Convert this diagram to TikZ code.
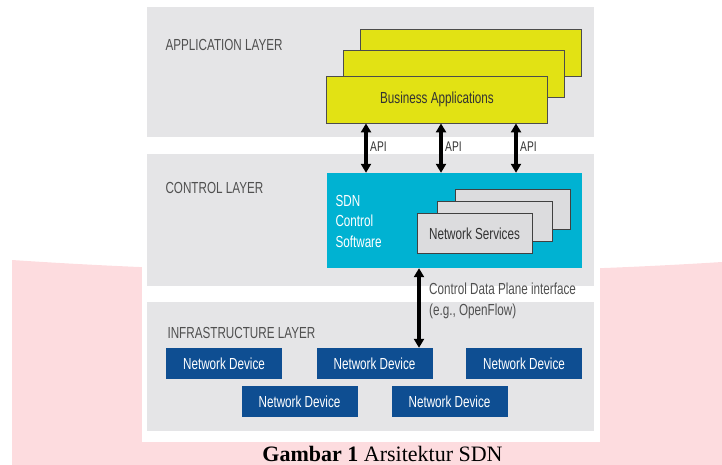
\documentclass[tikz,border=0pt]{standalone}
\usepackage{fontspec}
\setmainfont{Liberation Serif}
\setsansfont{Liberation Sans}[FakeStretch=0.73]
\usetikzlibrary{arrows.meta}

\definecolor{bandgray}{RGB}{229,229,231}
\definecolor{appyellow}{RGB}{226,226,20}
\definecolor{sdncyan}{RGB}{0,178,210}
\definecolor{svcgray}{RGB}{220,220,222}
\definecolor{devblue}{RGB}{14,78,146}
\definecolor{labelgray}{RGB}{80,80,80}
\definecolor{pagepink}{RGB}{253,220,223}

\tikzset{
  layerband/.style={fill=bandgray, minimum width=447pt, inner sep=0pt},
  layername/.style={anchor=west, text=labelgray, font=\sffamily\fontsize{16}{20.5}\selectfont},
  appbox/.style={draw=black!70, fill=appyellow, line width=0.8pt, minimum width=221pt, minimum height=47pt, inner sep=0pt},
  svcbox/.style={draw=black!75, fill=svcgray, line width=0.8pt, minimum width=115pt, minimum height=40pt, inner sep=0pt},
  devbox/.style={fill=devblue, text=white, minimum width=116pt, minimum height=31pt, inner sep=0pt, font=\sffamily\fontsize{16}{20.5}\selectfont},
  boxtext/.style={text=black!80, font=\sffamily\fontsize{16}{20.5}\selectfont},
  biarrow/.style={line width=3.2pt, {Triangle[length=9pt,width=10pt]}-{Triangle[length=9pt,width=10pt]}}
}

\begin{document}
\begin{tikzpicture}[x=1pt, y=-1pt]
    \useasboundingbox (0,0) rectangle (722,465);
    % Draw page background
    \fill[pagepink] (12,260) .. controls (250,276) and (500,276) .. (722,262) -- (722,465) -- (12,465) -- cycle;
    \fill[white] (142,0) rectangle (600,442);

    % Draw the three layers
    \node[layerband, minimum height=130pt] (appband) at (370.5,72) {};
    \node[layerband, minimum height=132pt] (ctrlband) at (370.5,220) {};
    \node[layerband, minimum height=129pt] (infraband) at (370.5,366.5) {};

    \node[layername] (applbl) at (162,45) {APPLICATION LAYER};
    \node[layername] (ctrllbl) at (162,188) {CONTROL LAYER};
    \node[layername] (infralbl) at (164,333) {INFRASTRUCTURE LAYER};

    % Draw the applications
    \node[appbox] (appback) at (471,52.5) {};
    \node[appbox] (appmid) at (453.5,73.5) {};
    \node[appbox, boxtext] (bizapp) at (437,99.5) {Business Applications};

    % Draw the controller
    \node[fill=sdncyan, minimum width=255pt, minimum height=95pt, inner sep=0pt] (sdn) at (454.5,220.5) {};
    \node[anchor=west, align=left, text=white, font=\sffamily\fontsize{16}{20.5}\selectfont] (sdnlbl) at (332,221) {SDN\\Control\\Software};

    \node[svcbox] (svcback) at (512.5,209) {};
    \node[svcbox] (svcmid) at (494.5,221.5) {};
    \node[svcbox, boxtext] (svc) at (474.5,233.5) {Network Services};

    % Draw the devices
    \node[devbox] (dev1) at (224,363.5) {Network Device};
    \node[devbox] (dev2) at (374.5,363.5) {Network Device};
    \node[devbox] (dev3) at (524,363.5) {Network Device};
    \node[devbox] (dev4) at (299.5,401.5) {Network Device};
    \node[devbox] (dev5) at (449.5,401.5) {Network Device};

    % Draw the interfaces
    \coordinate (api1) at (366,0);
    \coordinate (api2) at (441,0);
    \coordinate (api3) at (516,0);
    \coordinate (cdpi) at (419,0);
    \foreach \a in {api1,api2,api3}{
      \draw[biarrow] (bizapp.south -| \a) -- (sdn.north -| \a);
      \node[anchor=west, inner sep=0pt, text=black!80, font=\sffamily\fontsize{14}{15}\selectfont] at ([xshift=4pt]\a |- 0,147) {API};
    }
    \draw[biarrow] (sdn.south -| cdpi) -- (dev2.north -| cdpi);
    \node[anchor=west, align=left, inner sep=0pt, text=labelgray, font=\sffamily\fontsize{16}{21}\selectfont] (cdpilbl) at (429,300.5) {Control Data Plane interface\\(e.g., OpenFlow)};

    % Caption
    \node[anchor=base, inner sep=0pt, font=\fontsize{22}{25}\selectfont] (caption) at (382.5,461) {\textbf{Gambar 1} Arsitektur SDN};
\end{tikzpicture}
\end{document}
